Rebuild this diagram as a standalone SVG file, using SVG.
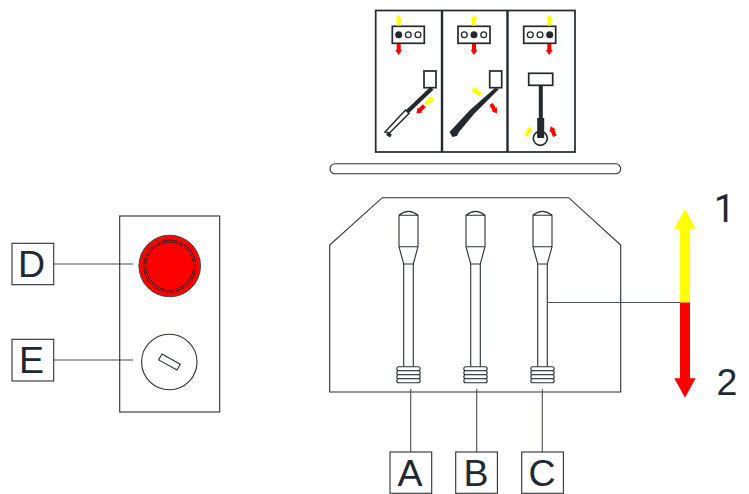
<svg xmlns="http://www.w3.org/2000/svg" width="749" height="494" viewBox="0 0 749 494">
<style>
.o{fill:none;stroke:#2a3138;stroke-width:1.1}
.w{fill:#fff;stroke:#2a3138;stroke-width:1.1}
.c{fill:#fff;stroke:#23292f;stroke-width:1.3}
.l{fill:none;stroke:#4a5056;stroke-width:1.1}
.p{fill:#fff;stroke:#23292f;stroke-width:1.7}
.d{fill:none;stroke:#23292f}
.t{font-family:"Liberation Sans",Arial,sans-serif;font-size:37.5px;fill:#1f2933;text-anchor:middle}
.n{font-family:Roboto,"Liberation Sans",Arial,sans-serif;font-size:38px;fill:#1f2933;text-anchor:middle}
.y{fill:#ffff00}.r{fill:#ff0000}
</style>
<defs>
<path id="ua" d="M0,-6 L3.4,-1 L2,-1 L2,5 L-2,5 L-2,-1 L-3.4,-1 Z"/>
<g id="lever">
<path class="w" d="M-9.5,5.2 Q0,-2.5 9.5,5.2 L9.5,36.7 L4.8,54 L-4.8,54 L-9.5,36.7 Z"/>
<path class="o" d="M-9.5,5.2 H9.5 M-9.5,36.7 H9.5 M-4.8,54 V156.7 M4.8,54 V156.7"/>
<rect class="w" x="-11.7" y="156.7" width="23.4" height="4" rx="2"/>
<rect class="w" x="-11.7" y="160.7" width="23.4" height="4" rx="2"/>
<rect class="w" x="-11.7" y="164.7" width="23.4" height="4" rx="2"/>
<rect class="w" x="-11.7" y="168.7" width="23.4" height="4" rx="2"/>
</g>
</defs>
<g id="panels">
<rect class="p" x="375.7" y="10.5" width="199.3" height="141.5"/>
<path d="M442,10.5 V152 M507.5,10.5 V152" fill="none" stroke="#23292f" stroke-width="2.4"/>
</g>
<g id="panel-a">
<rect class="p" x="392.3" y="26.3" width="32" height="17"/>
<circle cx="398.7" cy="34.7" r="3.5" fill="#23292f"/>
<circle class="c" cx="408.3" cy="34.7" r="2.9"/><circle class="c" cx="418" cy="34.7" r="2.9"/>
<use href="#ua" class="y" transform="translate(398.7,20.5)"/>
<use href="#ua" class="r" transform="translate(398.7,49) rotate(180)"/>
<rect class="p" x="424" y="71" width="12" height="16.7"/>
<path class="d" stroke-width="4.2" d="M432,88.3 L406.7,112.3"/>
<path d="M405.5,110 L409,113.5 L389.5,133 L385,132 Z" fill="#fff" stroke="#23292f" stroke-width="1.5"/>
<path class="d" stroke-width="3.4" d="M387,133.5 L391,136"/>
<use href="#ua" class="y" transform="translate(429.3,100.7) rotate(45)"/>
<use href="#ua" class="r" transform="translate(420.7,109.3) rotate(225)"/>
</g>
<g id="panel-b">
<rect class="p" x="458" y="26.3" width="32" height="17"/>
<circle class="c" cx="464.3" cy="34.7" r="2.9"/>
<circle cx="474" cy="34.7" r="3.5" fill="#23292f"/>
<circle class="c" cx="483.7" cy="34.7" r="2.9"/>
<use href="#ua" class="y" transform="translate(474,20.5)"/>
<use href="#ua" class="r" transform="translate(474,49) rotate(180)"/>
<rect class="p" x="489.7" y="71" width="12" height="16.7"/>
<path d="M495,88 L499,89 L474,114 L459,132 L457,136 L452.5,137 L449.5,132 L470,110 Z" fill="#23292f"/>
<use href="#ua" class="y" transform="translate(476.7,91.7) rotate(-55)"/>
<use href="#ua" class="r" transform="translate(493.7,108.3) rotate(148)"/>
</g>
<g id="panel-c">
<rect class="p" x="523.7" y="26.3" width="32" height="17"/>
<circle class="c" cx="530.3" cy="34.7" r="2.9"/><circle class="c" cx="540" cy="34.7" r="2.9"/>
<circle cx="549.7" cy="34.7" r="3.5" fill="#23292f"/>
<use href="#ua" class="y" transform="translate(549.3,20.5)"/>
<use href="#ua" class="r" transform="translate(549.3,49) rotate(180)"/>
<circle class="p" cx="540.3" cy="138.3" r="7"/>
<rect class="p" x="528.7" y="73.3" width="24" height="12"/>
<path d="M538.8,85.3 H542.8 V118 H544.2 V138 H537.2 V118 H538.8 Z" fill="#23292f"/>
<use href="#ua" class="y" transform="translate(528.3,131.7) rotate(28)"/>
<use href="#ua" class="r" transform="translate(553,131.7) rotate(-22)"/>
</g>
<g id="bar"><rect class="o" x="330" y="163.8" width="290.7" height="10" rx="5"/></g>
<g id="body">
<path class="o" d="M382.3,197.7 H568.7 L620.7,245 V392 H329.7 V245 Z"/>
</g>
<g id="lever-a"><use href="#lever" x="408.5" y="210"/></g>
<g id="lever-b"><use href="#lever" x="475.5" y="210"/></g>
<g id="lever-c"><use href="#lever" x="542.5" y="210"/></g>
<g id="connectors">
<path class="l" d="M410.7,389 V452 M476.7,389 V452 M542.3,389 V452 M547.7,302.5 H680 M53.7,264 H133 M53.7,360 H133"/>
</g>
<g id="node-A"><rect class="o" x="390" y="452" width="41.7" height="41.3"/><text class="t" x="410" y="485.5">A</text></g>
<g id="node-B"><rect class="o" x="455.7" y="452" width="41.7" height="41.3"/><text class="t" x="476" y="485.5">B</text></g>
<g id="node-C"><rect class="o" x="521.7" y="452" width="41.7" height="41.3"/><text class="t" x="542" y="485.5">C</text></g>
<g id="control-panel"><rect class="o" x="119.7" y="216" width="100" height="196"/></g>
<g id="lamp">
<circle cx="169.7" cy="266" r="30.8" fill="#ff0000" stroke="#3f4a45" stroke-width="1"/>
<circle cx="169.7" cy="266" r="26" fill="none" stroke="#2a2028" stroke-width="1"/>
<circle cx="169.7" cy="266" r="24" fill="none" stroke="#2a2028" stroke-width="1"/>
</g>
<g id="key-switch">
<circle class="o" cx="169.3" cy="362" r="27.7"/>
<rect class="o" x="159" y="358.7" width="21" height="6.7" transform="rotate(29 169.5 362)"/>
</g>
<g id="node-D"><rect class="o" x="12" y="243.3" width="41.7" height="41.4"/><text class="t" x="31.5" y="276.5">D</text></g>
<g id="node-E"><rect class="o" x="12" y="339.3" width="41.7" height="41.7"/><text class="t" x="31.5" y="372.5">E</text></g>
<g id="direction-arrow">
<path class="y" d="M685,209 L695.7,228.7 H690 V302.5 H680 V228.7 H674.3 Z"/>
<path class="r" d="M685,397.7 L695.7,378.3 H690 V302.5 H680 V378.3 H674.3 Z"/>
</g>
<text class="n" x="724.5" y="222">1</text>
<text class="t" x="727" y="395">2</text>
</svg>
